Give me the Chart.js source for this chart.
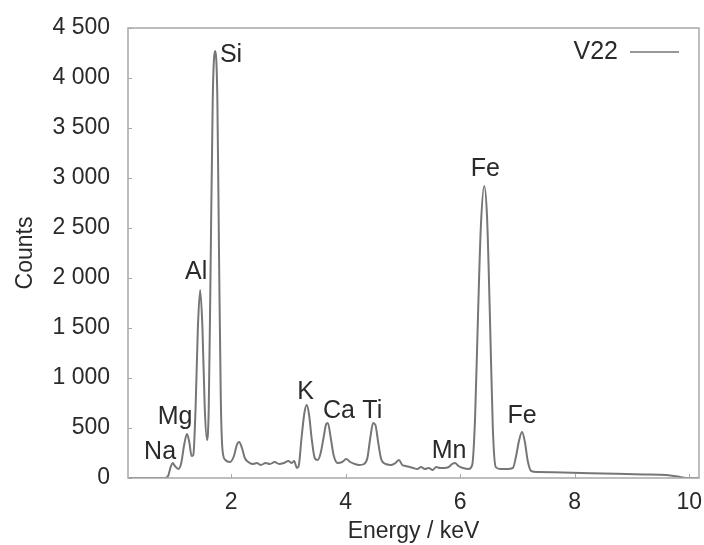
<!DOCTYPE html>
<html>
<head>
<meta charset="utf-8">
<script src="https://cdn.jsdelivr.net/npm/chart.js@4.4.1/dist/chart.umd.min.js"></script>
<style>
  html, body { margin: 0; padding: 0; background: #fff; }
  #wrap { width: 704px; height: 545px; }
</style>
</head>
<body>
<div id="wrap"><canvas id="spectrum"></canvas></div>
<script>
// spectrum: energy (keV) and counts
var energy = [0.20, 0.85, 0.90, 0.95, 0.98, 1.02, 1.08, 1.13, 1.18, 1.23, 1.27, 1.31, 1.34, 1.38, 1.42, 1.46, 1.50, 1.54, 1.58, 1.61, 1.64, 1.68, 1.72, 1.76, 1.79, 1.82, 1.85, 1.90, 1.98, 2.05, 2.10, 2.14, 2.19, 2.24, 2.30, 2.38, 2.45, 2.52, 2.60, 2.68, 2.76, 2.84, 2.92, 3.00, 3.06, 3.10, 3.15, 3.18, 3.23, 3.28, 3.32, 3.36, 3.41, 3.46, 3.51, 3.56, 3.62, 3.66, 3.69, 3.74, 3.79, 3.86, 3.94, 4.01, 4.08, 4.16, 4.24, 4.32, 4.38, 4.43, 4.48, 4.52, 4.57, 4.62, 4.70, 4.80, 4.87, 4.93, 4.99, 5.05, 5.12, 5.18, 5.25, 5.32, 5.38, 5.45, 5.52, 5.58, 5.65, 5.72, 5.80, 5.86, 5.91, 5.97, 6.05, 6.15, 6.21, 6.26, 6.31, 6.36, 6.42, 6.47, 6.52, 6.57, 6.62, 6.70, 6.82, 6.92, 6.98, 7.03, 7.08, 7.13, 7.18, 7.24, 7.35, 7.80, 8.50, 9.20, 9.60, 9.80, 9.95, 10.17];
var counts = [0, 0, 20, 120, 150, 120, 90, 150, 330, 440, 360, 220, 230, 700, 1500, 1880, 1500, 700, 380, 700, 2000, 3800, 4270, 3800, 2200, 800, 280, 180, 160, 220, 330, 360, 300, 200, 160, 140, 150, 130, 150, 140, 160, 140, 150, 170, 150, 170, 100, 120, 400, 650, 730, 640, 380, 200, 180, 240, 420, 540, 550, 400, 230, 150, 160, 190, 160, 140, 130, 140, 200, 400, 550, 530, 350, 190, 140, 130, 150, 180, 130, 120, 110, 100, 90, 110, 90, 100, 80, 110, 100, 100, 110, 140, 150, 120, 100, 90, 130, 600, 1600, 2500, 2920, 2600, 1600, 500, 110, 90, 90, 100, 230, 380, 460, 360, 170, 70, 60, 55, 45, 35, 30, 15, 0, 0];

var seriesName = 'V22';

// element peaks
var peakNames = ['Na', 'Mg', 'Al', 'Si', 'K', 'Ca', 'Ti', 'Mn', 'Fe', 'Fe'];
var peakEnergy = [0.97, 1.23, 1.46, 1.72, 3.32, 3.69, 4.50, 5.91, 6.42, 7.08];
var peakCounts = [150, 440, 1880, 4270, 730, 550, 550, 150, 2920, 460];

var xTicks = [2, 4, 6, 8, 10];
var yTicks = [0, 500, 1000, 1500, 2000, 2500, 3000, 3500, 4000, 4500];

var FONT = 'Liberation Sans, Arial, Helvetica, sans-serif';
var AXIS_COLOR = '#a8a8a8';
var TEXT_COLOR = '#2a2a2a';

function withSpaces(v) {
  return String(v).replace(/\B(?=(\d{3})+(?!\d))/g, ' ');
}

// frame, inner tick marks, peak labels and the legend
var decorations = {
  id: 'decorations',
  labelOffsets: [[-12, -11], [-12, -17], [-4, -18], [16, 4], [-1, -13], [11, -12], [-2, -12], [-6, -12], [1, -17], [0, -16]],
  afterDraw: function(chart) {
    var ctx = chart.ctx;
    var area = chart.chartArea;
    var xs = chart.scales.x;
    var ys = chart.scales.y;

    ctx.save();
    ctx.strokeStyle = AXIS_COLOR;
    ctx.lineWidth = 1.5;
    ctx.strokeRect(area.left, area.top, area.right - area.left, area.bottom - area.top);

    ctx.lineWidth = 1;
    ctx.beginPath();
    xTicks.forEach(function(t) {
      var px = Math.round(xs.getPixelForValue(t)) + 0.5;
      ctx.moveTo(px, area.bottom);
      ctx.lineTo(px, area.bottom - 4);
    });
    yTicks.forEach(function(t) {
      var py = Math.round(ys.getPixelForValue(t)) + 0.5;
      ctx.moveTo(area.left, py);
      ctx.lineTo(area.left + 4, py);
    });
    ctx.stroke();

    ctx.fillStyle = TEXT_COLOR;
    ctx.font = '25px ' + FONT;
    ctx.textAlign = 'center';
    ctx.textBaseline = 'middle';
    var offs = this.labelOffsets;
    peakNames.forEach(function(name, i) {
      var px = xs.getPixelForValue(peakEnergy[i]) + offs[i][0];
      var py = ys.getPixelForValue(peakCounts[i]) + offs[i][1];
      ctx.fillText(name, px, py);
    });

    // legend: label then line sample, top right
    var ds = chart.data.datasets[0];
    ctx.textAlign = 'right';
    ctx.fillText(ds.label, area.right - 81, area.top + 24);
    ctx.strokeStyle = ds.borderColor;
    ctx.lineWidth = 1.5;
    ctx.beginPath();
    ctx.moveTo(area.right - 69, area.top + 24);
    ctx.lineTo(area.right - 20, area.top + 24);
    ctx.stroke();
    ctx.restore();
  }
};

function drawChart() {
  var element = document.getElementById('spectrum').getContext('2d');

  var points = energy.map(function(e, i) { return { x: e, y: counts[i] }; });

  var chart = new Chart(element, {
    type: 'line',
    data: {
      datasets: [{
        label: seriesName,
        data: points,
        borderColor: '#767676',
        borderWidth: 2,
        pointRadius: 0,
        fill: false,
        cubicInterpolationMode: 'monotone'
      }]
    },
    options: {
      responsive: true,
      maintainAspectRatio: false,
      animation: false,
      layout: { padding: { top: 28, right: 5, left: 0, bottom: 0 } },
      plugins: {
        legend: { display: false },
        tooltip: { enabled: false }
      },
      scales: {
        x: {
          type: 'linear',
          min: 0.2,
          max: 10.17,
          afterBuildTicks: function(axis) {
            axis.ticks = xTicks.map(function(v) { return { value: v }; });
          },
          afterFit: function(axis) {
            axis.height = 67;
            axis.paddingLeft = 0;
            axis.paddingRight = 0;
          },
          grid: { display: false },
          border: { display: false },
          ticks: {
            color: TEXT_COLOR,
            font: { family: FONT, size: 23 },
            padding: 3,
            maxRotation: 0
          },
          title: {
            display: true,
            text: 'Energy / keV',
            color: TEXT_COLOR,
            font: { family: FONT, size: 23 },
            padding: { top: 0, bottom: 0 }
          }
        },
        y: {
          min: 0,
          max: 4500,
          afterBuildTicks: function(axis) {
            axis.ticks = yTicks.map(function(v) { return { value: v }; });
          },
          afterFit: function(axis) {
            axis.width = 128;
            axis.paddingTop = 0;
            axis.paddingBottom = 0;
          },
          grid: { display: false },
          border: { display: false },
          ticks: {
            color: TEXT_COLOR,
            font: { family: FONT, size: 23 },
            padding: 10,
            callback: function(v) { return withSpaces(v); }
          },
          title: {
            display: true,
            text: 'Counts',
            color: TEXT_COLOR,
            font: { family: FONT, size: 23 },
            padding: { top: 12, bottom: 0 }
          }
        }
      }
    },
    plugins: [decorations]
  });
}

drawChart();
</script>
</body>
</html>
